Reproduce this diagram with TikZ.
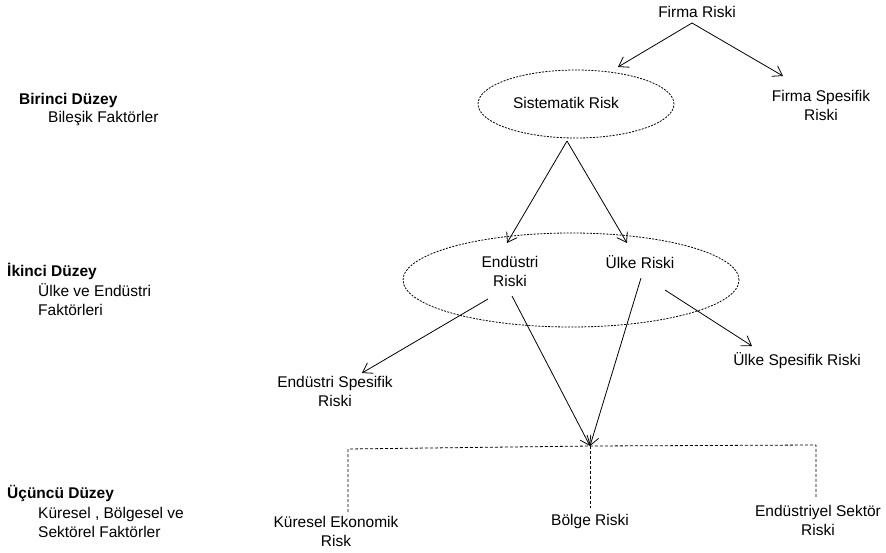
\documentclass[tikz,border=0pt]{standalone}
\usepackage{fontspec}
\setmainfont{Liberation Sans}
\usetikzlibrary{arrows.meta,shapes.geometric}
\begin{document}
\begin{tikzpicture}[x=1pt,y=-1pt,
  lbl/.style={font=\fontsize{15.5}{19}\selectfont, inner sep=0pt, align=center},
  side/.style={font=\fontsize{15.5}{19}\selectfont, inner sep=0pt, align=left, anchor=west},
  arr/.style={line width=0.8pt, -{Straight Barb[length=9pt,width=12pt,line width=0.8pt]}},
  oval/.style={ellipse, draw, line width=0.8pt, dash pattern=on 2pt off 1.3pt, inner sep=0pt},
  brk/.style={line width=0.8pt, dash pattern=on 3pt off 2pt}]
\useasboundingbox (0,0) rectangle (886,552);

% left level labels
\node[side, font=\fontsize{15.5}{19}\selectfont\bfseries] (l1) at (19,100) {Birinci Düzey};
\node[side] (l1s) at (48,119) {Bileşik Faktörler};
\node[side, font=\fontsize{15.5}{19}\selectfont\bfseries] (l2) at (7,271) {İkinci Düzey};
\node[side] (l2s) at (38,300) {Ülke ve Endüstri\\Faktörleri};
\node[side, font=\fontsize{15.5}{19}\selectfont\bfseries] (l3) at (7,493) {Üçüncü Düzey};
\node[side] (l3s) at (38,522) {Küresel , Bölgesel ve\\Sektörel Faktörler};

% top
\node[lbl] (firma) at (697,12) {Firma Riski};
\node[oval, minimum width=196pt, minimum height=68pt] (sis) at (576,104) {};
\node[lbl] (sist) at (566,103) {Sistematik Risk};
\node[lbl] (fsr) at (821,105) {Firma Spesifik\\Riski};

% middle
\node[oval, minimum width=336pt, minimum height=94pt] (grp) at (571,280) {};
\node[lbl] (endr) at (510,271) {Endüstri\\Riski};
\node[lbl] (ulke) at (640,262) {Ülke Riski};
\node[lbl] (esr) at (335,391) {Endüstri Spesifik\\Riski};
\node[lbl] (usr) at (797,361) {Ülke Spesifik Riski};

% bottom
\node[lbl] (kur) at (336,531) {Küresel Ekonomik\\Risk};
\node[lbl] (bol) at (590,521) {Bölge Riski};
\node[lbl] (ends) at (818,520) {Endüstriyel Sektör\\Riski};

% connector points
\coordinate (fa) at (692,23);
\coordinate (sisT) at (618,67);
\coordinate (fsrT) at (783,76);
\coordinate (sB) at (567,141);
\coordinate (endT) at (507,243);
\coordinate (ulkeT) at (627,243);
\coordinate (endL) at (488,299);
\coordinate (endR) at (512,296);
\coordinate (esrT) at (362,373);
\coordinate (ulkeB) at (641,278);
\coordinate (ulkeR) at (665,290);
\coordinate (usrT) at (752,346);
\coordinate (j) at (590,446);
\coordinate (cl) at (348,449);
\coordinate (cr) at (816,445);
\coordinate (klb) at (348,512);
\coordinate (crb) at (816,497);
\coordinate (bt) at (590,508);

% arrows
\draw[arr] (fa) -- (sisT);
\draw[arr] (fa) -- (fsrT);
\draw[arr] (sB) -- (endT);
\draw[arr] (sB) -- (ulkeT);
\draw[arr] (endL) -- (esrT);
\draw[arr] (endR) -- (j);
\draw[arr] (ulkeB) -- (j);
\draw[arr] (ulkeR) -- (usrT);

% dashed bracket
\draw[brk] (klb) -- (cl) -- (j) -- (cr) -- (crb);
\draw[brk] (j) -- (bt);
\end{tikzpicture}
\end{document}
